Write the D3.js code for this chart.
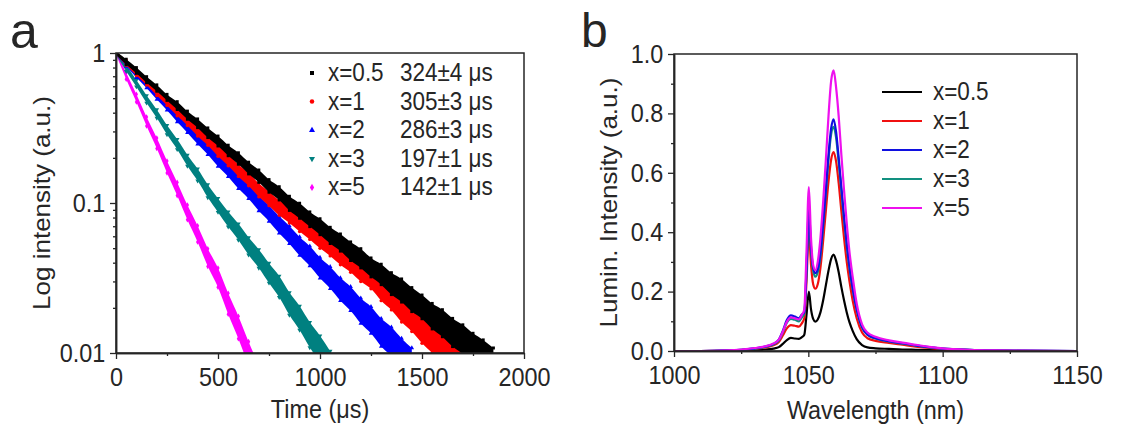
<!DOCTYPE html>
<html>
<head>
<meta charset="utf-8">
<script src="https://cdn.jsdelivr.net/npm/d3@7"></script>
<style>
body { margin: 0; background: #fff; }
svg { font-family: "Liberation Sans", Arial, sans-serif; }
</style>
</head>
<body>
<svg id="fig" width="1121" height="425"></svg>
<script>
// ---- panel a : decay curves (band centre + scatter half width in decades)
var seriesNames = ["x=0.5", "x=1", "x=2", "x=3", "x=5"];
var lifetimes = ["324\u00b14 \u03bcs", "305\u00b13 \u03bcs", "286\u00b13 \u03bcs", "197\u00b11 \u03bcs", "142\u00b11 \u03bcs"];

var decayTime = [0,50,100,150,200,250,300,350,400,450,500,550,600,650,700,750,800,850,900,950,
                 1000,1050,1100,1150,1200,1250,1300,1350,1400,1450,1500,1550,1600,1650,1700,1750,1800,1850];

var decayX05 = [1.0,0.872,0.765,0.664,0.584,0.506,0.446,0.385,0.340,0.294,0.259,0.224,0.198,0.171,0.151,0.130,0.116,0.0995,0.0888,0.0779,
                0.0695,0.0608,0.0545,0.0477,0.0428,0.0372,0.0334,0.0290,0.0261,0.0227,0.0203,0.0176,0.0158,0.0137,0.0123,0.0107,0.0096,0.0085];
var spreadX05 = [0.010,0.018,0.019,0.020,0.021,0.020,0.026,0.027,0.029,0.032,0.033,0.035,0.038,0.039,0.041,0.042,0.044,0.047,0.050,0.049,
                 0.053,0.054,0.057,0.062,0.064,0.063,0.068,0.073,0.077,0.080,0.079,0.085,0.090,0.094,0.098,0.102,0.105,0.104];

var decayX1 = [1.0,0.862,0.739,0.640,0.548,0.475,0.406,0.352,0.301,0.262,0.223,0.194,0.165,0.144,0.122,0.107,0.0928,0.0829,0.0730,0.0652,
               0.0572,0.0512,0.0450,0.0404,0.0353,0.0318,0.0268,0.0234,0.0196,0.0171,0.0144,0.0125,0.0105,0.0092,0.0078];
var spreadX1 = [0.010,0.018,0.019,0.020,0.022,0.026,0.027,0.030,0.032,0.034,0.037,0.040,0.040,0.043,0.045,0.047,0.050,0.052,0.054,0.057,
                0.059,0.062,0.065,0.068,0.071,0.074,0.079,0.082,0.086,0.090,0.093,0.097,0.100,0.103,0.105];

var decayX2 = [1.0,0.849,0.718,0.613,0.516,0.442,0.371,0.317,0.267,0.229,0.192,0.165,0.138,0.119,0.0995,0.0852,0.0716,0.0614,0.0515,0.0443,
               0.0370,0.0318,0.0266,0.0230,0.0191,0.0166,0.0137,0.0119,0.0099,0.0085];
var spreadX2 = [0.010,0.018,0.020,0.021,0.023,0.027,0.029,0.032,0.034,0.037,0.039,0.042,0.044,0.047,0.050,0.053,0.056,0.059,0.062,0.066,
                0.069,0.073,0.076,0.080,0.084,0.089,0.093,0.097,0.101,0.104];

var decayX3 = [1.0,0.790,0.627,0.492,0.393,0.307,0.246,0.192,0.154,0.120,0.0965,0.0778,0.0641,0.0515,0.0425,0.0341,0.0277,0.0213,0.0171,0.0132,
               0.0106,0.0083,0.0065];
var spreadX3 = [0.010,0.020,0.022,0.025,0.028,0.031,0.034,0.037,0.040,0.043,0.046,0.050,0.054,0.058,0.062,0.066,0.071,0.075,0.080,0.084,
                0.089,0.093,0.097];

var decayX5 = [1.0,0.703,0.500,0.349,0.250,0.174,0.124,0.0865,0.0622,0.0433,0.0318,0.0213,0.0148,0.0099,0.0068];
var spreadX5 = [0.010,0.022,0.026,0.030,0.035,0.040,0.044,0.049,0.054,0.059,0.064,0.070,0.075,0.080,0.085];

var timeTicks = [0, 500, 1000, 1500, 2000];
var timeMinor = [250, 750, 1250, 1750];
var logTicks = [0.01, 0.1, 1];
var logTickLabels = ["0.01", "0.1", "1"];
var logMinor = [0.02,0.03,0.04,0.05,0.06,0.07,0.08,0.09,0.2,0.3,0.4,0.5,0.6,0.7,0.8,0.9];

// ---- panel b : emission spectra
var wavelength = [1000,1010,1020,1025,1030,1034,1037,1039,1040.5,1042,1043.5,1045,1046.5,1047.5,1048.5,1049.3,1050.2,1051,1051.8,1052.6,
                  1053.5,1054.5,1055.5,1056.5,1057.5,1058.5,1059.4,1060.3,1061.3,1062.3,1063.3,1064.3,1065.3,1066.5,1068,1070,1072,1075,1080,1085,
                  1090,1095,1100,1110,1120,1130,1150];
var lumX05 = [0,0,0,0.001,0.003,0.005,0.008,0.013,0.024,0.037,0.044,0.042,0.041,0.046,0.055,0.12,0.20,0.14,0.108,0.099,
              0.106,0.13,0.17,0.22,0.27,0.31,0.325,0.305,0.265,0.215,0.17,0.13,0.097,0.068,0.04,0.02,0.012,0.009,0.007,0.005,
              0.004,0.003,0.002,0.001,0,0,0];
var lumX1 = [0,0,0.001,0.003,0.007,0.012,0.019,0.030,0.052,0.076,0.087,0.085,0.082,0.092,0.11,0.23,0.40,0.29,0.225,0.21,
             0.225,0.28,0.37,0.47,0.57,0.645,0.67,0.64,0.565,0.47,0.38,0.30,0.235,0.17,0.11,0.062,0.043,0.034,0.027,0.021,
             0.015,0.010,0.006,0.003,0.001,0,0];
var lumX2 = [0,0,0.002,0.004,0.009,0.015,0.024,0.038,0.068,0.104,0.120,0.116,0.110,0.122,0.13,0.27,0.475,0.35,0.28,0.262,
             0.275,0.33,0.43,0.54,0.66,0.75,0.78,0.74,0.65,0.55,0.45,0.36,0.285,0.21,0.14,0.08,0.055,0.043,0.033,0.026,
             0.019,0.013,0.008,0.004,0.002,0.001,0];
var lumX3 = [0,0,0.002,0.004,0.008,0.014,0.022,0.035,0.062,0.095,0.108,0.105,0.100,0.112,0.125,0.26,0.455,0.34,0.27,0.25,
             0.265,0.32,0.42,0.53,0.645,0.73,0.755,0.72,0.635,0.54,0.44,0.355,0.28,0.21,0.14,0.08,0.055,0.042,0.032,0.025,
             0.018,0.012,0.008,0.004,0.002,0.001,0];
var lumX5 = [0,0,0.002,0.005,0.010,0.016,0.025,0.038,0.065,0.098,0.113,0.110,0.106,0.12,0.14,0.33,0.552,0.38,0.29,0.272,
             0.30,0.38,0.50,0.64,0.79,0.91,0.945,0.89,0.79,0.66,0.54,0.43,0.335,0.25,0.16,0.09,0.062,0.048,0.036,0.028,
             0.021,0.014,0.009,0.004,0.002,0.001,0];

var wlTicks = [1000, 1050, 1100, 1150];
var wlMinor = [1025, 1075, 1125];
var lumTicks = [0, 0.2, 0.4, 0.6, 0.8, 1.0];
var lumMinor = [0.1, 0.3, 0.5, 0.7, 0.9];

// ---- layout / style
var colorsA = ["#000000", "#ff0000", "#0000ff", "#008080", "#ff00ff"];
var colorsB = ["#000000", "#f01010", "#1010e0", "#129080", "#ee10ee"];
var symbolsA = [d3.symbolSquare, d3.symbolCircle, d3.symbolTriangle, d3.symbolTriangle, d3.symbolDiamond];
var symRot = [0, 0, 0, 180, 0];
var ink = "#262626";
var sx = 0.9; // lettering in the figure is slightly narrow

var A = {left: 116, right: 524, top: 53, bottom: 353};
var B = {left: 674, right: 1077, top: 54, bottom: 351};

var svg = d3.select("#fig");

var xa = d3.scaleLinear().domain([0, 2000]).range([A.left, A.right]);
var ya = d3.scaleLog().domain([0.01, 1]).range([A.bottom, A.top]);
var xb = d3.scaleLinear().domain([1000, 1150]).range([B.left, B.right]);
var yb = d3.scaleLinear().domain([0, 1]).range([B.bottom, B.top]);

function addText(x, y, str, size, anchor, rot, squeeze) {
	var k = squeeze === undefined ? sx : squeeze;
	return svg.append("text")
		.attr("transform", "translate(" + x + "," + y + ") scale(" + k + ",1)" + (rot ? " rotate(-90)" : ""))
		.attr("font-size", size)
		.attr("text-anchor", anchor || "start")
		.attr("fill", ink)
		.text(str);
}

function styleAxis(g) {
	g.attr("font-size", 26).attr("font-family", null);
	g.selectAll(".domain").attr("stroke", ink).attr("stroke-width", 1.5);
	g.selectAll(".tick line").attr("stroke", ink).attr("stroke-width", 1.3);
	g.selectAll(".tick text").attr("fill", ink).attr("transform", "scale(" + sx + ",1)");
}

function drawAxes(box, x, y, xMajor, xMinor, yMajor, yMinor, yFmt, xFmt) {
	var g;
	g = svg.append("g").attr("transform", "translate(0," + box.bottom + ")")
		.call(d3.axisBottom(x).tickValues(xMinor).tickSize(3).tickSizeOuter(0).tickFormat(""));
	styleAxis(g);
	g = svg.append("g").attr("transform", "translate(0," + box.bottom + ")")
		.call(d3.axisBottom(x).tickValues(xMajor).tickSize(6).tickSizeOuter(0).tickPadding(9).tickFormat(xFmt));
	styleAxis(g);
	g = svg.append("g").attr("transform", "translate(" + box.left + ",0)")
		.call(d3.axisLeft(y).tickValues(yMinor).tickSize(3).tickSizeOuter(0).tickFormat(""));
	styleAxis(g);
	g = svg.append("g").attr("transform", "translate(" + box.left + ",0)")
		.call(d3.axisLeft(y).tickValues(yMajor).tickSize(6).tickSizeOuter(0).tickPadding(6).tickFormat(yFmt));
	styleAxis(g);
	svg.append("rect")
		.attr("x", box.left).attr("y", box.top)
		.attr("width", box.right - box.left).attr("height", box.bottom - box.top)
		.attr("fill", "none").attr("stroke", ink).attr("stroke-width", 1.5);
}

// ---- panel a
svg.append("clipPath").attr("id", "clipA").append("rect")
	.attr("x", A.left).attr("y", A.top).attr("width", A.right - A.left).attr("height", A.bottom - A.top);
svg.append("clipPath").attr("id", "clipB").append("rect")
	.attr("x", B.left).attr("y", B.top - 2).attr("width", B.right - B.left).attr("height", B.bottom - B.top + 2);

var decays = [decayX05, decayX1, decayX2, decayX3, decayX5];
var spreads = [spreadX05, spreadX1, spreadX2, spreadX3, spreadX5];

var plotA = svg.append("g").attr("clip-path", "url(#clipA)");
// draw the fastest decay first so x=0.5 sits on top, as in the figure
[4, 3, 2, 1, 0].forEach(function(i) {
	var pts = decays[i].map(function(c, k) {
		var f = Math.pow(10, spreads[i][k]);
		return {t: decayTime[k], c: c, lo: c / f, hi: c * f};
	});
	var band = d3.area()
		.x(function(d) { return xa(d.t); })
		.y0(function(d) { return ya(d.lo); })
		.y1(function(d) { return ya(d.hi); })
		.curve(d3.curveMonotoneX);
	plotA.append("path").datum(pts)
		.attr("d", band)
		.attr("fill", colorsA[i]);
	var sym = d3.symbol().type(symbolsA[i]).size(9);
	var marks = [];
	pts.forEach(function(d) { marks.push([d.t, d.lo], [d.t, d.hi]); });
	plotA.selectAll(null).data(marks).enter().append("path")
		.attr("d", sym)
		.attr("transform", function(d) { return "translate(" + xa(d[0]) + "," + ya(d[1]) + ") rotate(" + symRot[i] + ")"; })
		.attr("fill", colorsA[i]);
});

drawAxes(A, xa, ya, timeTicks, timeMinor, logTicks, logMinor,
	function(d) { return logTickLabels[logTicks.indexOf(d)]; }, d3.format("d"));

// legend a
seriesNames.forEach(function(name, i) {
	var y = 73 + i * 28.6;
	svg.append("path")
		.attr("d", d3.symbol().type(symbolsA[i]).size(16))
		.attr("transform", "translate(312," + y + ") rotate(" + symRot[i] + ")")
		.attr("fill", colorsA[i]);
	addText(328, y + 8, name, 25);
	addText(400, y + 8, lifetimes[i], 25);
});

addText(10, 48, "a", 50, "start", false, 1);
addText((A.left + A.right) / 2, 418, "Time (\u03bcs)", 26, "middle");
addText(50, (A.top + A.bottom) / 2, "Log intensity (a.u.)", 26, "middle", true);

// ---- panel b
var spectra = [lumX05, lumX1, lumX3, lumX2, lumX5];
var specColor = [colorsB[0], colorsB[1], colorsB[3], colorsB[2], colorsB[4]];
var line = d3.line()
	.x(function(d, k) { return xb(wavelength[k]); })
	.y(function(d) { return yb(d); })
	.curve(d3.curveMonotoneX);

var plotB = svg.append("g").attr("clip-path", "url(#clipB)");
spectra.forEach(function(s, i) {
	plotB.append("path").datum(s)
		.attr("d", line)
		.attr("fill", "none")
		.attr("stroke", specColor[i])
		.attr("stroke-width", 2.2)
		.attr("stroke-linejoin", "round");
});

drawAxes(B, xb, yb, wlTicks, wlMinor, lumTicks, lumMinor, d3.format(".1f"), d3.format("d"));

// legend b
seriesNames.forEach(function(name, i) {
	var y = 92 + i * 29;
	svg.append("line")
		.attr("x1", 882).attr("x2", 922).attr("y1", y).attr("y2", y)
		.attr("stroke", colorsB[i]).attr("stroke-width", 2.2);
	addText(933, y + 8, name, 25);
});

addText(581, 47, "b", 48, "start", false, 1);
addText((B.left + B.right) / 2, 419, "Wavelength (nm)", 26, "middle");
addText(617, (B.top + B.bottom) / 2, "Lumin. Intensity (a.u.)", 26, "middle", true);
</script>
</body>
</html>
